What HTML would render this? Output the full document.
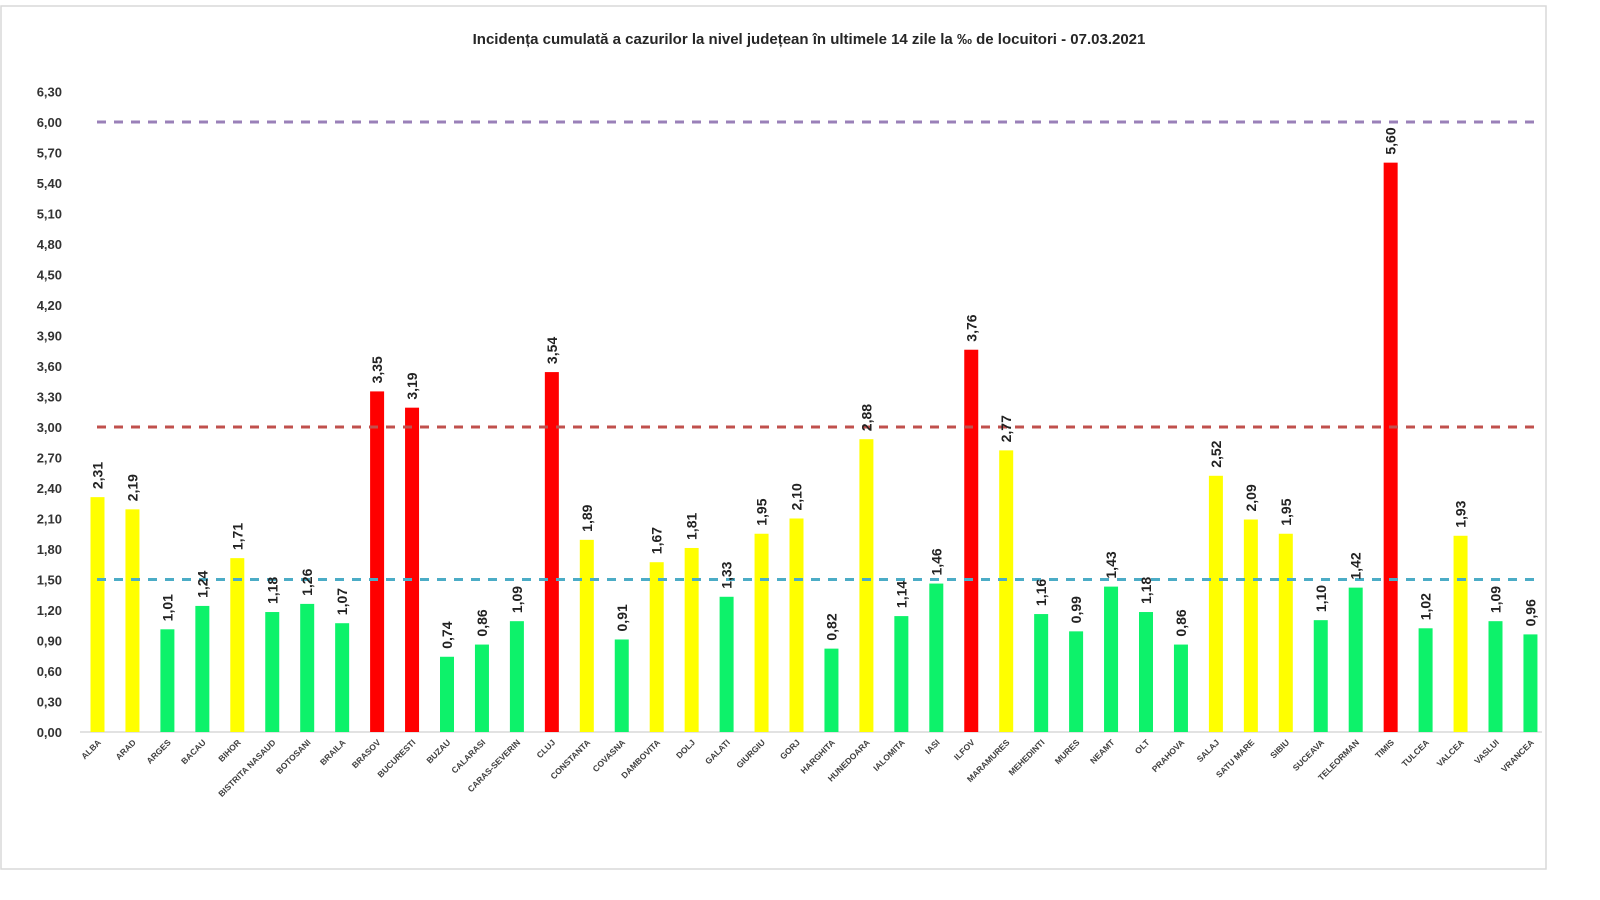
<!DOCTYPE html>
<html><head><meta charset="utf-8"><style>
html,body{margin:0;padding:0;background:#fff;width:1600px;height:900px;overflow:hidden}
svg{display:block}
</style></head><body>
<svg width="1600" height="900" xmlns="http://www.w3.org/2000/svg" font-family="Liberation Sans, sans-serif">
<rect x="1" y="6" width="1545" height="863" fill="#fff" stroke="#d9d9d9" stroke-width="1.5"/>
<text x="809" y="44" text-anchor="middle" font-size="15" font-weight="bold" fill="#262626">Incidența cumulată a cazurilor la nivel județean în ultimele 14 zile la ‰ de locuitori - 07.03.2021</text>
<g id="ticks" font-size="13" font-weight="bold" fill="#333" text-anchor="end"></g>
<line x1="80" y1="732" x2="1542" y2="732" stroke="#d9d9d9" stroke-width="1.5"/>
<g id="bars"></g>
<line x1="97" y1="122" x2="1542" y2="122" stroke="#9a80b8" stroke-width="3" stroke-dasharray="9,8"/>
<line x1="97" y1="427" x2="1542" y2="427" stroke="#c0504d" stroke-width="3" stroke-dasharray="9,8"/>
<line x1="97" y1="579.5" x2="1542" y2="579.5" stroke="#4bacc6" stroke-width="3" stroke-dasharray="9,8"/>
<g id="labels"></g>
</svg>
<script>
var ns="http://www.w3.org/2000/svg";
function el(t,a,txt){var e=document.createElementNS(ns,t);for(var k in a)e.setAttribute(k,a[k]);if(txt!=null)e.textContent=txt;return e;}
var tk=document.getElementById('ticks');
for(var i=0;i<=21;i++){var v=i*0.3;var y=732-v*101.67;tk.appendChild(el('text',{x:62,y:y+5},v.toFixed(2).replace('.',',')));}
var d=[["ALBA",2.31],["ARAD",2.19],["ARGES",1.01],["BACAU",1.24],["BIHOR",1.71],["BISTRITA NASAUD",1.18],["BOTOSANI",1.26],["BRAILA",1.07],["BRASOV",3.35],["BUCURESTI",3.19],["BUZAU",0.74],["CALARASI",0.86],["CARAS-SEVERIN",1.09],["CLUJ",3.54],["CONSTANTA",1.89],["COVASNA",0.91],["DAMBOVITA",1.67],["DOLJ",1.81],["GALATI",1.33],["GIURGIU",1.95],["GORJ",2.10],["HARGHITA",0.82],["HUNEDOARA",2.88],["IALOMITA",1.14],["IASI",1.46],["ILFOV",3.76],["MARAMURES",2.77],["MEHEDINTI",1.16],["MURES",0.99],["NEAMT",1.43],["OLT",1.18],["PRAHOVA",0.86],["SALAJ",2.52],["SATU MARE",2.09],["SIBIU",1.95],["SUCEAVA",1.10],["TELEORMAN",1.42],["TIMIS",5.60],["TULCEA",1.02],["VALCEA",1.93],["VASLUI",1.09],["VRANCEA",0.96]];
var b=document.getElementById('bars'),l=document.getElementById('labels');
d.forEach(function(r,i){var cx=97.5+i*34.95;var v=r[1];var h=v*101.67;
var c=v>=3?"#ff0000":(v>=1.5?"#ffff00":"#0df26a");
b.appendChild(el('rect',{x:cx-7,y:732-h,width:14,height:h,fill:c}));
var ty=732-h-8;
l.appendChild(el('text',{x:0,y:0,transform:"translate("+(cx+5)+","+ty+") rotate(-90)","font-size":14,"font-weight":"bold",fill:"#222"},v.toFixed(2).replace('.',',')));
l.appendChild(el('text',{x:0,y:0,transform:"translate("+(cx+4)+","+743+") rotate(-45)","font-size":8.5,"font-weight":"bold",fill:"#404040","text-anchor":"end"},r[0]));
});
</script>
</body></html>
